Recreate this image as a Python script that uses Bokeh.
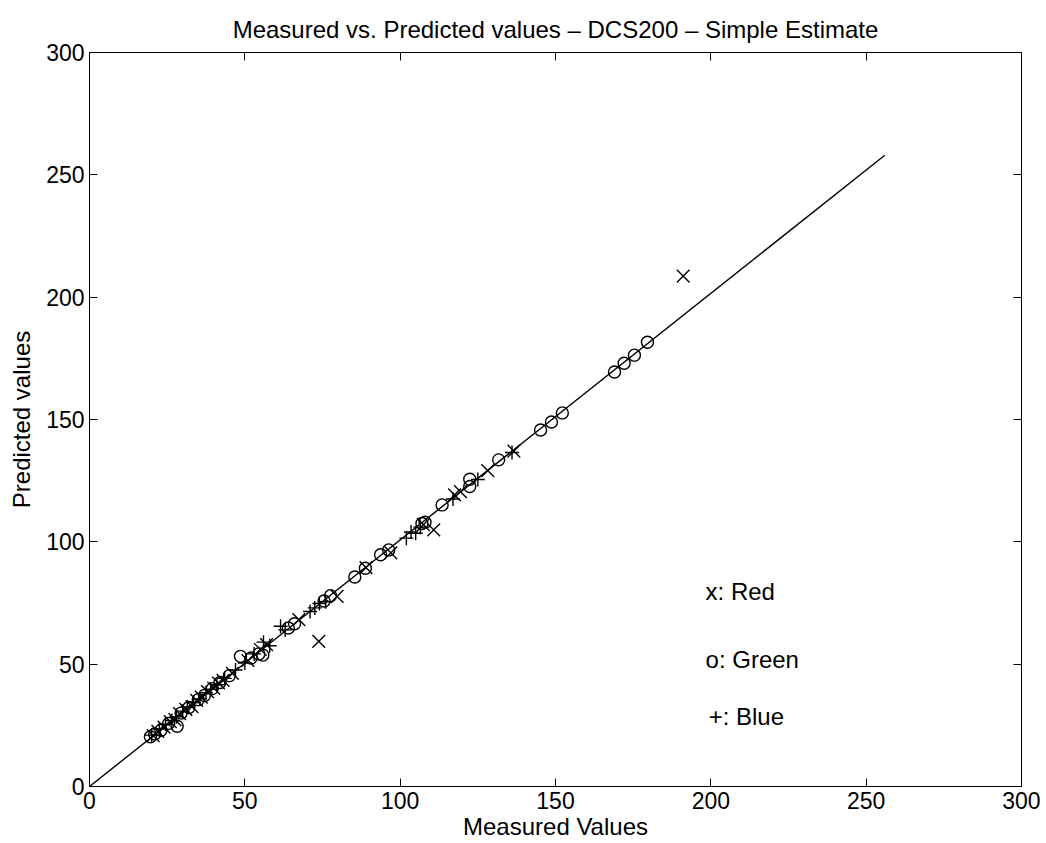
from bokeh.plotting import figure
from bokeh.models import LinearAxis, FixedTicker, ColumnDataSource
from bokeh.core.properties import value
from bokeh.embed import file_html
from bokeh.resources import INLINE

# ---- data ----
red_measured = [20.5, 22, 24, 26, 27.5, 29, 31, 33, 34.5, 36, 38, 40, 41.5, 43, 46, 51, 55, 57,
                67.4, 73.8, 79.7, 89, 97, 107.5, 110.8, 117.5, 119.4, 128.2, 136.6, 191.1]
red_predicted = [20.8, 22.5, 24.3, 26.5, 27.3, 29.8, 31.5, 32.6, 35.2, 36.5, 38.8, 40.2, 42.3, 43.4, 46.2, 51.5, 56, 58,
                 68.2, 59.3, 77.7, 89.5, 95.5, 107, 104.9, 119.2, 120.5, 129.1, 137.1, 208.6]

green_measured = [19.6, 21, 23, 25.5, 28.2, 29.5, 32, 35, 37, 39.5, 42, 45, 48.6, 52, 54.5, 55.8, 64, 66,
                  75.5, 77.6, 85.4, 88.8, 93.7, 96.3, 107, 108, 113.5, 122.4, 122.4, 131.7, 145.2, 148.7,
                  152.2, 169, 172.1, 175.4, 179.6]
green_predicted = [20.3, 21.5, 23, 25.8, 24.6, 30, 32.3, 35.5, 37.2, 40, 42.5, 45.3, 53.2, 52.5, 54.2, 53.7, 64.8, 66.5,
                   75.8, 78, 85.6, 89.2, 94.7, 96.7, 107.5, 108, 115.1, 122.6, 125.6, 133.5, 145.7, 149,
                   152.7, 169.4, 173, 176.3, 181.6]

blue_measured = [20, 22.5, 24.5, 26.5, 28, 30, 31.5, 33.5, 35.5, 37.5, 39, 41, 43.5, 47, 50, 53, 56, 58,
                 61.5, 63, 71, 72.5, 74, 76, 102, 103.5, 105, 106.5, 117, 125, 136]
blue_predicted = [21, 23.5, 25.5, 27, 28.5, 30.8, 32.5, 34.3, 35.8, 38.3, 39.8, 41.6, 44.2, 47.6, 50.5, 54.2, 59, 57.5,
                  65.5, 64, 71.5, 73, 74.8, 75.5, 101.5, 104, 103.5, 106, 117.5, 125.5, 136.5]

line_x = [0, 256]
line_y = [0, 258]

legend_labels = ["x: Red", "o: Green", "+: Blue"]
legend_x = [198.3, 198.3, 199.3]
legend_y = [79.6, 51.8, 28.6]

ticks = [0, 50, 100, 150, 200, 250, 300]

FONT = "Liberation Sans"

p = figure(width=1040, height=842, x_range=(0, 300), y_range=(0, 300),
           output_backend="svg", toolbar_location=None,
           min_border_left=89, min_border_right=19, min_border_top=52, min_border_bottom=55,
           title="Measured vs. Predicted values \u2013 DCS200 \u2013 Simple Estimate")
p.title.align = "center"
p.title.text_font = FONT
p.title.text_font_size = "24px"
p.title.text_font_style = "normal"
p.title.text_color = "black"
p.title.standoff = 20
p.xgrid.visible = False
p.ygrid.visible = False
p.outline_line_color = "black"
p.background_fill_color = "white"

for ax in (p.xaxis[0], p.yaxis[0]):
    ax.ticker = FixedTicker(ticks=ticks)
    ax.major_tick_in = 8
    ax.major_tick_out = 0
    ax.minor_tick_line_color = None
    ax.axis_line_color = "black"
    ax.major_tick_line_color = "black"
    ax.major_label_text_font = FONT
    ax.major_label_text_font_size = "23px"
    ax.major_label_text_color = "black"
    ax.axis_label_text_font = FONT
    ax.axis_label_text_font_size = "24px"
    ax.axis_label_text_font_style = "normal"
    ax.axis_label_text_color = "black"
    ax.major_label_standoff = 5

p.xaxis.axis_label = "Measured Values"
p.yaxis.axis_label = "Predicted values"
p.xaxis.axis_label_standoff = 1
p.yaxis.axis_label_standoff = 8

for loc in ("right", "above"):
    a = LinearAxis(ticker=FixedTicker(ticks=ticks), major_tick_in=8, major_tick_out=0,
                   minor_tick_line_color=None, major_label_text_font_size="1px",
                   major_label_overrides={t: "" for t in ticks},
                   axis_line_color="black", major_tick_line_color="black", major_label_standoff=0)
    p.add_layout(a, loc)

p.line(line_x, line_y, line_color="black", line_width=1.4)

p.scatter(red_measured, red_predicted, marker="x", size=18, line_color="black", line_width=1.4)
p.scatter(green_measured, green_predicted, marker="circle", size=12, line_color="black",
          fill_color=None, line_width=1.4)
p.scatter(blue_measured, blue_predicted, marker="cross", size=14, line_color="black", line_width=1.4)

src = ColumnDataSource(dict(x=legend_x, y=legend_y, t=legend_labels))
p.text(x="x", y="y", text="t", source=src, text_font=value(FONT), text_font_size="24px",
       text_baseline="middle", text_align="left", text_color="black")

open("out.html", "w").write(file_html(p, INLINE))
